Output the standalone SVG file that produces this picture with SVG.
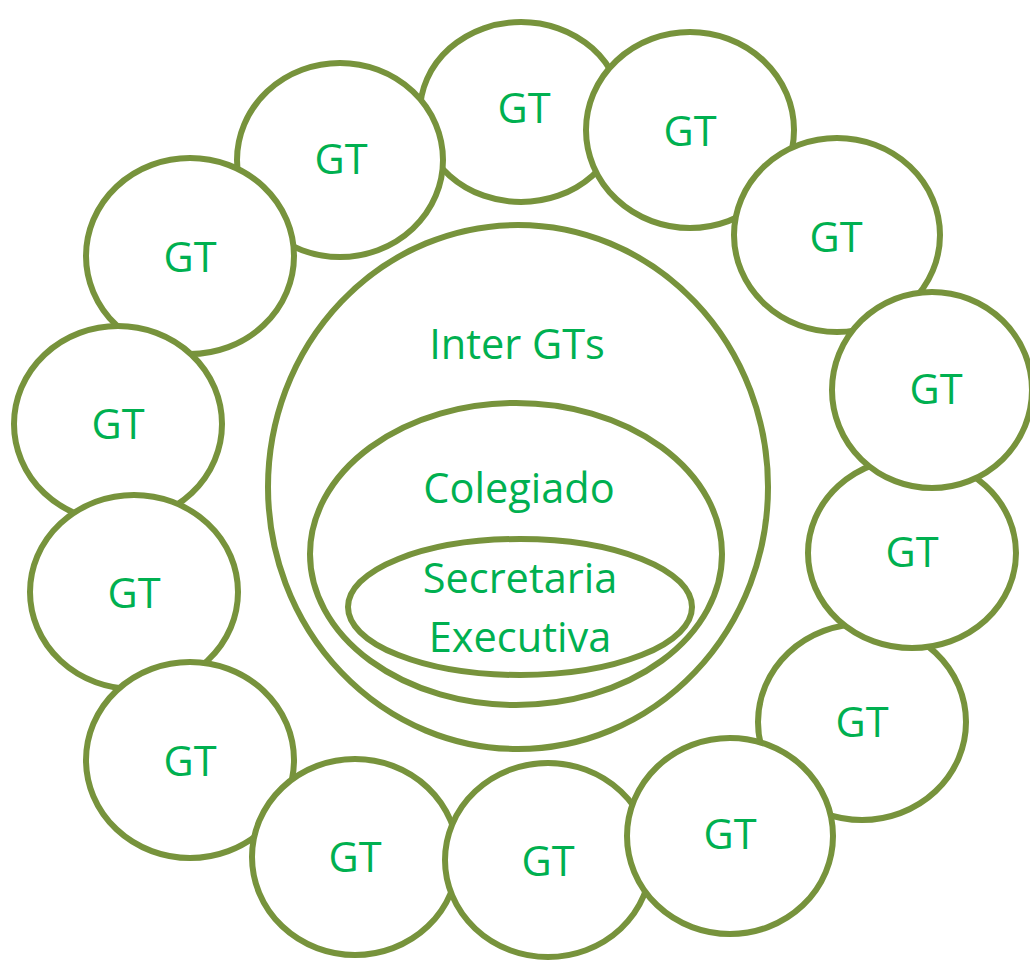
<svg xmlns="http://www.w3.org/2000/svg" width="1030" height="960" viewBox="0 0 1030 960">
<style>
.c{fill:#fff;stroke:#77933C;stroke-width:6}
.t{font-family:"Open Sans","Liberation Sans",sans-serif;font-size:41.5px;fill:#00B050;text-anchor:middle}
</style>
<rect width="1030" height="960" fill="#fff"/>
<g id="connectors"></g>
<g id="gt1"><ellipse class="c" cx="521" cy="112" rx="101" ry="90"/><text class="t" x="524" y="123">GT</text></g>
<g id="gt2"><ellipse class="c" cx="340" cy="160" rx="103" ry="97"/><text class="t" x="341" y="174">GT</text></g>
<g id="gt3"><ellipse class="c" cx="190" cy="256" rx="104" ry="98"/><text class="t" x="190" y="272">GT</text></g>
<g id="gt4"><ellipse class="c" cx="118" cy="424" rx="104" ry="98"/><text class="t" x="118" y="439">GT</text></g>
<g id="gt5"><ellipse class="c" cx="134" cy="592" rx="104" ry="97"/><text class="t" x="134" y="608">GT</text></g>
<g id="gt6"><ellipse class="c" cx="190" cy="760" rx="104" ry="98"/><text class="t" x="190" y="776">GT</text></g>
<g id="gt7"><ellipse class="c" cx="355" cy="857" rx="103" ry="98"/><text class="t" x="355" y="872">GT</text></g>
<g id="gt8"><ellipse class="c" cx="548" cy="860" rx="103" ry="97"/><text class="t" x="548" y="876">GT</text></g>
<g id="gt9"><ellipse class="c" cx="862" cy="722" rx="104" ry="98"/><text class="t" x="862" y="737">GT</text></g>
<g id="gt10"><ellipse class="c" cx="730" cy="836" rx="103" ry="98"/><text class="t" x="730" y="849">GT</text></g>
<g id="gt11"><ellipse class="c" cx="690" cy="130" rx="104" ry="98"/><text class="t" x="690" y="146">GT</text></g>
<g id="gt12"><ellipse class="c" cx="837" cy="235" rx="103" ry="97"/><text class="t" x="836" y="252">GT</text></g>
<g id="gt13"><ellipse class="c" cx="912" cy="553" rx="104" ry="95"/><text class="t" x="912" y="567">GT</text></g>
<g id="gt14"><ellipse class="c" cx="932" cy="390" rx="100" ry="98"/><text class="t" x="936" y="404">GT</text></g>
<g id="intergts"><ellipse class="c" cx="518" cy="487" rx="250" ry="262"/><text class="t" x="517" y="359">Inter GTs</text></g>
<g id="colegiado"><ellipse class="c" cx="516" cy="554" rx="206" ry="151"/><text class="t" x="519" y="503">Colegiado</text></g>
<g id="secretaria"><ellipse class="c" cx="520" cy="607" rx="172" ry="68"/><text class="t" x="520" y="593">Secretaria</text><text class="t" x="520" y="652">Executiva</text></g>
</svg>
